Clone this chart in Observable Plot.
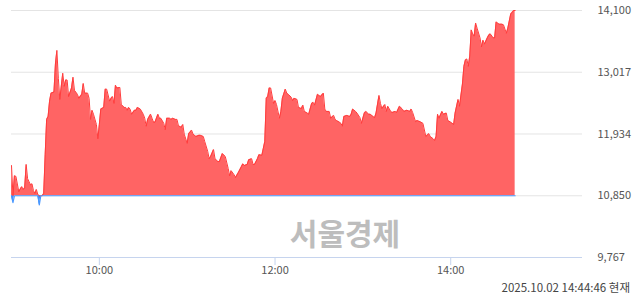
<!DOCTYPE html>
<html>
<head>
<meta charset="utf-8">
<script src="https://cdn.jsdelivr.net/npm/d3@7"></script>
<script src="https://cdn.jsdelivr.net/npm/@observablehq/plot@0.6"></script>
<style>
  html, body { margin: 0; padding: 0; background: #fff; }
  #wrap { position: relative; width: 640px; height: 294px; overflow: hidden; font-family: "Noto Sans CJK KR", "Noto Sans", sans-serif; }
  #wm { position: absolute; left: 0; width: 690px; top: 213px; text-align: center; font-size: 30px; font-weight: bold; color: #bdbdbd; line-height: 38px; }
  #stamp { position: absolute; right: 10px; top: 279px; font-size: 11.5px; color: #444; line-height: 16px; white-space: nowrap; }
  #chart { position: absolute; left: 0; top: 0; }
</style>
</head>
<body>
<div id="wrap">
  <div id="wm">서울경제</div>
  <div id="chart"></div>
  <div id="stamp">2025.10.02 14:44:46 현재</div>
</div>
<script>
const baseline = 10850;
const yTicks = [9767, 10850, 11934, 13017, 14100];
const xTickLabels = ["10:00", "12:00", "14:00"];
const xDomain = ["09:00", "15:30"];

const times = [
"09:00","09:01","09:02","09:03","09:05","09:06","09:07","09:08","09:09","09:10","09:11","09:13","09:14","09:15","09:16","09:17","09:18","09:19","09:20","09:21","09:22","09:23","09:24","09:25","09:26","09:27","09:29",
"09:30","09:31","09:32","09:33","09:35","09:36","09:37","09:38","09:39","09:41","09:42","09:43","09:45","09:46","09:48","09:49","09:50","09:52","09:53","09:54","09:55","09:56","09:58","09:59",
"10:00","10:01","10:03","10:04","10:05","10:07","10:08","10:09","10:10","10:11","10:12","10:14","10:15","10:17","10:18","10:19","10:20","10:21","10:22","10:24","10:25","10:26","10:28",
"10:30","10:31","10:32","10:33","10:35","10:36","10:37","10:38","10:40","10:41","10:42","10:44","10:45","10:46","10:48","10:49","10:50","10:52","10:53","10:54","10:56","10:57","10:58",
"11:00","11:01","11:03","11:04","11:06","11:08","11:09","11:11","11:12","11:14","11:15","11:16","11:18","11:19","11:21","11:22","11:24","11:26","11:28","11:29",
"11:30","11:32","11:33","11:35","11:37","11:38","11:39","11:41","11:42","11:44","11:45","11:46","11:48","11:49","11:51","11:52","11:53","11:54","11:55","11:56","11:57","11:59",
"12:00","12:01","12:03","12:04","12:05","12:07","12:08","12:09","12:11","12:12","12:13","12:15","12:16","12:18","12:19","12:20","12:22","12:23","12:25","12:26","12:27","12:29",
"12:30","12:31","12:33","12:34","12:35","12:37","12:38","12:40","12:41","12:42","12:44","12:45","12:46","12:47","12:49","12:51","12:52","12:53","12:55","12:56","12:58","12:59",
"13:01","13:02","13:04","13:05","13:07","13:08","13:09","13:11","13:12","13:13","13:15","13:16","13:17","13:19","13:20","13:22","13:23","13:25","13:27","13:28",
"13:30","13:32","13:33","13:34","13:36","13:37","13:39","13:41","13:43","13:45","13:46","13:48","13:49","13:50","13:51","13:52","13:54","13:55","13:57","13:58",
"14:00","14:02","14:03","14:05","14:06","14:08","14:09","14:10","14:11","14:12","14:13","14:14","14:15","14:16","14:17","14:18","14:20","14:21","14:22","14:23","14:25","14:26","14:27","14:29",
"14:30","14:31","14:33","14:35","14:36","14:38","14:39","14:41","14:42","14:43","14:44"
];
const prices = [
11380,10730,11200,11190,10920,10970,11010,10960,10990,11400,11150,11040,11060,10940,10890,10960,10870,10690,10850,10850,10890,11570,12190,12240,12510,12650,12670,
13160,13400,12910,12540,13000,12770,12880,12880,12590,12740,12930,12700,12630,12560,12630,12820,12650,12650,12560,12190,12350,12280,12100,11850,
12100,12370,12400,12720,12720,12510,12560,12590,12470,12790,12740,12750,12450,12400,12400,12350,12400,12370,12280,12350,12350,12400,12370,
12280,12210,12070,12190,12280,12210,12140,12140,12280,12210,12210,12120,12010,12210,12210,12190,12210,12190,12190,12080,12050,12100,11930,
11770,11940,12000,11930,11890,11910,11910,11890,11800,11630,11500,11540,11660,11500,11450,11450,11590,11540,11330,11200,
11290,11220,11170,11260,11360,11410,11380,11400,11480,11500,11400,11400,11500,11570,11560,11680,11800,12560,12590,12740,12740,12470,
12520,12450,12210,12330,12560,12720,12650,12630,12580,12520,12560,12540,12400,12380,12440,12330,12300,12280,12470,12490,12440,12630,
12610,12590,12650,12370,12330,12330,12210,12260,12190,12170,12140,12120,12070,12240,12260,12240,12280,12370,12330,12300,12220,12120,
12300,12330,12280,12280,12240,12220,12300,12610,12470,12380,12450,12330,12420,12330,12310,12330,12310,12420,12370,12330,
12350,12330,12370,12310,12150,12170,12150,12120,11890,11940,11890,11850,11820,11890,12280,12210,12330,12280,12300,12170,
12140,12100,12300,12540,12420,12810,13120,13230,13250,13120,13300,13760,13690,13650,13880,13790,13620,13460,13580,13510,13620,13670,13690,13620,
13620,13900,13860,13860,13850,13700,13790,14040,14070,14100,14100
];

const toDate = s => { const [h, m] = s.split(":").map(Number); return new Date(2025, 9, 2, h, m); };
const data = times.map((t, i) => ({time: toDate(t), price: prices[i]}));
const up = d => Math.max(d.price, baseline);
const down = d => Math.min(d.price, baseline);

const chart = Plot.plot({
  width: 640,
  height: 294,
  marginTop: 10,
  marginBottom: 37,
  marginLeft: 11,
  marginRight: 58,
  x: {type: "time", domain: xDomain.map(toDate)},
  y: {domain: [yTicks[0], yTicks[yTicks.length - 1]]},
  style: {fontFamily: "'Noto Sans CJK KR', 'Noto Sans', sans-serif", fontSize: "11px", background: "transparent", color: "#555"},
  marks: [
    Plot.gridY(yTicks.slice(1), {stroke: "#e4e4e4", strokeOpacity: 1}),
    Plot.ruleY([yTicks[0]], {stroke: "#c6d4ee"}),
    Plot.areaY(data, {x: "time", y1: baseline, y2: up, fill: "#ff6464", fillOpacity: 1}),
    Plot.areaY(data, {x: "time", y1: baseline, y2: down, fill: "#3a8dff", fillOpacity: 1}),
    Plot.lineY(data, {x: "time", y: up, stroke: "#ff3c3c", strokeWidth: 1}),
    Plot.lineY(data, {x: "time", y: down, stroke: "#4a98ff", strokeWidth: 1.2}),
    Plot.axisY(yTicks, {anchor: "right", tickSize: 0, tickPadding: 15, textAnchor: "start", tickFormat: d3.format(","), label: null, fill: "#555"}),
    Plot.axisX(xTickLabels.map(toDate), {tickSize: 8, tickPadding: 1, tickFormat: d3.timeFormat("%H:%M"), label: null, stroke: "#c6d4ee", fill: "#555"})
  ]
});
document.getElementById("chart").appendChild(chart);
</script>
</body>
</html>
